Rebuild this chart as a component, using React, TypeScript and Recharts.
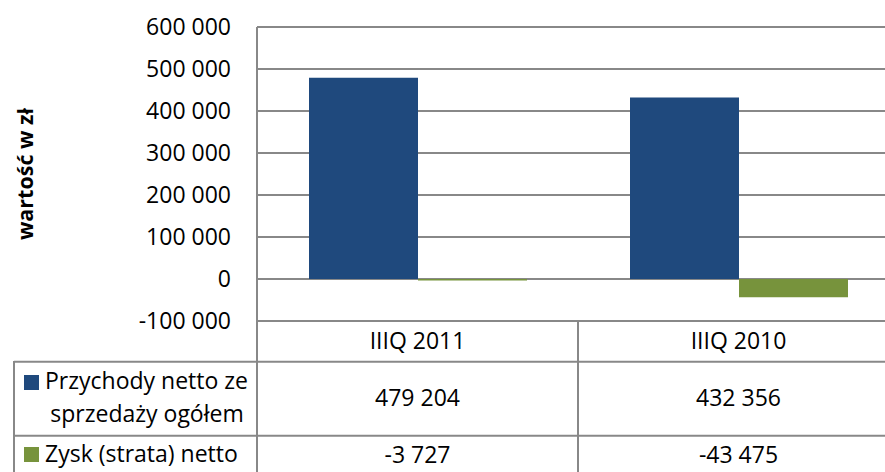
import React from 'react';
import { BarChart, Bar, XAxis, YAxis, CartesianGrid } from 'recharts';

const categories = ['IIIQ 2011', 'IIIQ 2010'];
const revenue = [479204, 432356];
const profit = [-3727, -43475];
const yTicks = [-100000, 0, 100000, 200000, 300000, 400000, 500000, 600000];
const seriesNames = ['Przychody netto ze', 'sprzedaży ogółem', 'Zysk (strata) netto'];
const axisTitle = 'wartość w zł';

const data = categories.map((c, i) => ({ cat: c, revenue: revenue[i], profit: profit[i] }));

const BLUE = '#1f497d';
const GREEN = '#77933c';
const GRID = '#888888';
const FONT = "'Open Sans', sans-serif";
const FS = 23;

const fmt = (v: number) =>
  (v < 0 ? '-' : '') + Math.abs(v).toString().replace(/\B(?=(\d{3})+(?!\d))/g, ' ');

const W = 900;
const H = 472;
const PLOT_LEFT = 257;
const PLOT_TOP = 27;
const PLOT_BOTTOM = 321;
const PLOT_RIGHT = 899;

const CategoryTick = (props: any) => {
  const { x, y, payload } = props;
  const i = payload.index ?? props.index ?? 0;
  const common = { textAnchor: 'middle' as const, fill: '#000', fontSize: FS, fontFamily: FONT };
  return (
    <g>
      <text x={x} y={y + 19.5} dy="0.357em" {...common}>{payload.value}</text>
      <text x={x} y={y + 77} dy="0.357em" {...common}>{fmt(revenue[i])}</text>
      <text x={x} y={y + 134} dy="0.357em" {...common}>{fmt(profit[i])}</text>
    </g>
  );
};

export default function App() {
  const mid = (PLOT_LEFT + PLOT_RIGHT) / 2;
  return (
    <div style={{ position: 'absolute', left: 0, top: 0, width: 885, height: 472, overflow: 'hidden', background: '#fff' }}>
      <BarChart
        width={W}
        height={H}
        data={data}
        margin={{ top: PLOT_TOP, right: W - PLOT_RIGHT, left: 0, bottom: 0 }}
        barGap={0}
        barSize={109}
      >
        <CartesianGrid vertical={false} stroke={GRID} strokeWidth={2} />
        <YAxis
          type="number"
          width={PLOT_LEFT}
          domain={[-100000, 600000]}
          ticks={yTicks}
          interval={0}
          tickFormatter={(v: number) => fmt(v)}
          tickLine={false}
          tickSize={6}
          tickMargin={20}
          axisLine={{ stroke: GRID, strokeWidth: 2 }}
          tick={{ fill: '#000', fontSize: FS, fontFamily: FONT }}
        />
        <XAxis
          dataKey="cat"
          type="category"
          height={H - PLOT_BOTTOM}
          axisLine={false}
          tickLine={false}
          tickSize={0}
          tickMargin={0}
          interval={0}
          tick={<CategoryTick />}
        />
        <Bar dataKey="revenue" fill={BLUE} isAnimationActive={false} />
        <Bar dataKey="profit" fill={GREEN} isAnimationActive={false} />
      </BarChart>
      <svg width={W} height={H} style={{ position: 'absolute', left: 0, top: 0, pointerEvents: 'none' }}>
        <g stroke={GRID} strokeWidth={2} fill="none">
          <line x1={14} y1={361.75} x2={W} y2={361.75} />
          <line x1={14} y1={435.75} x2={W} y2={435.75} />
          <line x1={14} y1={361} x2={14} y2={H} />
          <line x1={PLOT_LEFT} y1={PLOT_BOTTOM} x2={PLOT_LEFT} y2={H} />
          <line x1={mid} y1={PLOT_BOTTOM} x2={mid} y2={H} />
        </g>
        <text
          transform={`translate(24, 174) rotate(-90)`}
          textAnchor="middle"
          dominantBaseline="central"
          fontFamily={FONT}
          fontWeight="bold"
          fontSize={21.5}
          fill="#000"
        >
          {axisTitle}
        </text>
        <rect x={24} y={375} width={15} height={15} fill={BLUE} />
        <text x={45} y={389} fontFamily={FONT} fontSize={FS} fill="#000">{seriesNames[0]}</text>
        <text x={147} y={422} textAnchor="middle" fontFamily={FONT} fontSize={FS} fill="#000">{seriesNames[1]}</text>
        <rect x={24} y={447} width={15} height={15} fill={GREEN} />
        <text x={45} y={462} fontFamily={FONT} fontSize={FS} fill="#000">{seriesNames[2]}</text>
      </svg>
    </div>
  );
}
